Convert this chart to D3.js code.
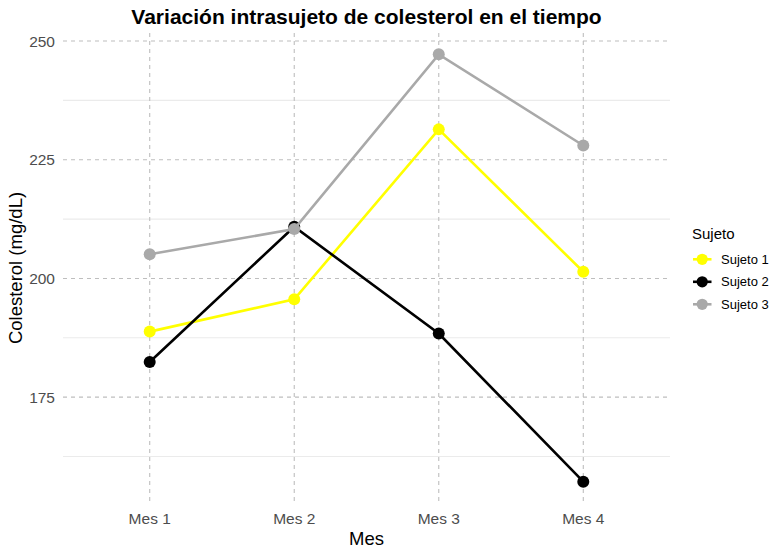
<!DOCTYPE html>
<html>
<head>
<meta charset="utf-8">
<script src="https://cdn.jsdelivr.net/npm/d3@7"></script>
<style>
  body { margin: 0; background: #fff; }
  svg { font-family: "Liberation Sans", Arial, sans-serif; }
</style>
</head>
<body>
<svg id="chart" width="784" height="556"></svg>
<script>
// Data
const meses = ["Mes 1", "Mes 2", "Mes 3", "Mes 4"];
const sujetos = ["Sujeto 1", "Sujeto 2", "Sujeto 3"];
const sujeto1 = [188.8, 195.6, 231.4, 201.4];
const sujeto2 = [182.4, 210.9, 188.4, 157.2];
const sujeto3 = [205.1, 210.4, 247.2, 228.0];
const yTicks = [175, 200, 225, 250];
const yMinor = [162.5, 187.5, 212.5, 237.5];
const colores = ["#FFFF00", "#000000", "#A9A9A9"];

const series = [sujeto1, sujeto2, sujeto3].map((vals, i) => ({
    name: sujetos[i],
    color: colores[i],
    values: vals.map((v, j) => ({ mes: meses[j], valor: v }))
}));

const margin = { top: 33, right: 114, bottom: 53, left: 63 };
const width = 784 - margin.left - margin.right;
const height = 556 - margin.top - margin.bottom;

const svg = d3.select("#chart");
const g = svg.append("g")
    .attr("transform", "translate(" + margin.left + "," + margin.top + ")");

// Scales (ggplot style expansion)
const allVals = sujeto1.concat(sujeto2, sujeto3);
const yMin = d3.min(allVals), yMax = d3.max(allVals);
const pad = (yMax - yMin) * 0.05;
const y = d3.scaleLinear()
    .domain([yMin - pad, yMax + pad])
    .range([height, 0]);

const xi = d3.scaleLinear()
    .domain([0.4, meses.length + 0.6])
    .range([0, width]);
const x = m => xi(meses.indexOf(m) + 1);

// Minor gridlines
g.selectAll(".minor")
    .data(yMinor)
    .enter()
    .append("line")
    .attr("x1", 0).attr("x2", width)
    .attr("y1", d => y(d)).attr("y2", d => y(d))
    .attr("stroke", "#EBEBEB")
    .attr("stroke-width", 1.1);

// Major gridlines (dashed)
g.selectAll(".hmajor")
    .data(yTicks)
    .enter()
    .append("line")
    .attr("x1", 0).attr("x2", width)
    .attr("y1", d => y(d)).attr("y2", d => y(d))
    .attr("stroke", "#BEBEBE")
    .attr("stroke-width", 1.1)
    .attr("stroke-dasharray", "4,4");

g.selectAll(".vmajor")
    .data(meses)
    .enter()
    .append("line")
    .attr("x1", d => x(d)).attr("x2", d => x(d))
    .attr("y1", 0).attr("y2", height)
    .attr("stroke", "#BEBEBE")
    .attr("stroke-width", 1.1)
    .attr("stroke-dasharray", "4,4");

// Y tick labels
g.selectAll(".ylab")
    .data(yTicks)
    .enter()
    .append("text")
    .attr("x", -8)
    .attr("y", d => y(d))
    .attr("dy", "0.36em")
    .attr("text-anchor", "end")
    .attr("font-size", 15.5)
    .attr("fill", "#4D4D4D")
    .text(d => d);

// X tick labels
g.selectAll(".xlab")
    .data(meses)
    .enter()
    .append("text")
    .attr("x", d => x(d))
    .attr("y", height + 21)
    .attr("text-anchor", "middle")
    .attr("font-size", 15.5)
    .attr("fill", "#4D4D4D")
    .text(d => d);

// Lines
const line = d3.line()
    .x(d => x(d.mes))
    .y(d => y(d.valor));

series.forEach(s => {
    g.append("path")
        .datum(s.values)
        .attr("d", line)
        .attr("fill", "none")
        .attr("stroke", s.color)
        .attr("stroke-width", 2.6);
    g.selectAll(null)
        .data(s.values)
        .enter()
        .append("circle")
        .attr("cx", d => x(d.mes))
        .attr("cy", d => y(d.valor))
        .attr("r", 6)
        .attr("fill", s.color);
});

// Title
svg.append("text")
    .attr("x", margin.left + width / 2)
    .attr("y", 24)
    .attr("text-anchor", "middle")
    .attr("font-size", 21)
    .attr("font-weight", "bold")
    .text("Variación intrasujeto de colesterol en el tiempo");

// Axis titles
svg.append("text")
    .attr("x", margin.left + width / 2)
    .attr("y", 545)
    .attr("text-anchor", "middle")
    .attr("font-size", 18.5)
    .text("Mes");

svg.append("text")
    .attr("transform", "rotate(-90)")
    .attr("x", -(margin.top + height / 2))
    .attr("y", 22)
    .attr("text-anchor", "middle")
    .attr("font-size", 18.5)
    .text("Colesterol (mg/dL)");

// Legend
const legend = svg.append("g")
    .attr("transform", "translate(692,0)");

legend.append("text")
    .attr("x", 0)
    .attr("y", 239)
    .attr("font-size", 15)
    .text("Sujeto");

const item = legend.selectAll(".item")
    .data(series)
    .enter()
    .append("g")
    .attr("transform", (d, i) => "translate(0," + (259.3 + i * 22.5) + ")");

item.append("line")
    .attr("x1", 1).attr("x2", 19.5)
    .attr("y1", 0).attr("y2", 0)
    .attr("stroke", d => d.color)
    .attr("stroke-width", 2.6);

item.append("circle")
    .attr("cx", 10.2)
    .attr("cy", 0)
    .attr("r", 5.6)
    .attr("fill", d => d.color);

item.append("text")
    .attr("x", 29)
    .attr("y", 0)
    .attr("dy", "0.36em")
    .attr("font-size", 13)
    .text(d => d.name);
</script>
</body>
</html>
